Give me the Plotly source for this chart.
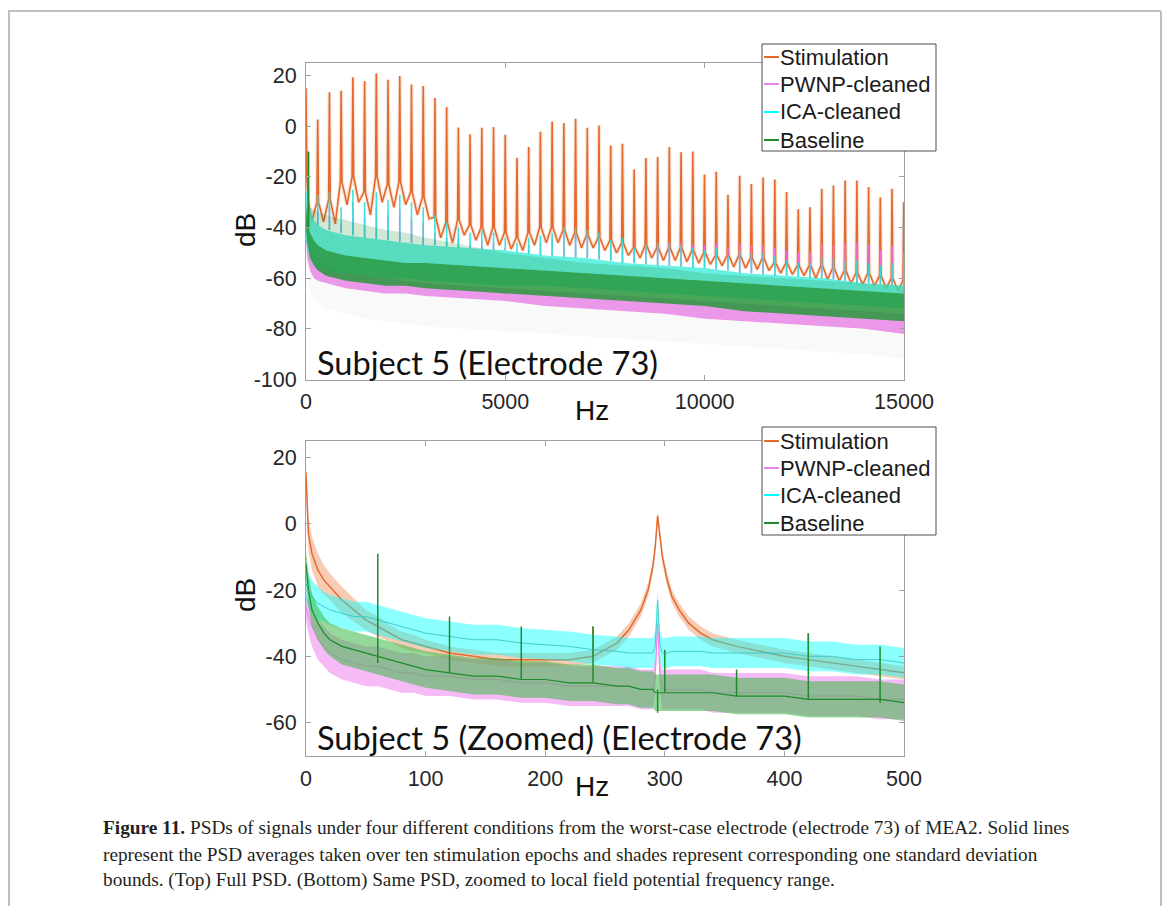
import plotly.graph_objects as go

# page is 1170x914; the browser adds an 8 px body margin, so the figure is 16 px smaller
PAGE_W, PAGE_H, BODY = 1170, 914, 8
W, H = PAGE_W - 2 * BODY, PAGE_H - 2 * BODY

# ---------------- data: top panel (full PSD, 0-15000 Hz) ----------------
HARMONIC_HZ = [294, 588, 882, 1176, 1470, 1764, 2058, 2352, 2646, 2940,
               3234, 3528, 3822, 4116, 4410, 4704, 4998, 5292, 5586, 5880,
               6174, 6468, 6762, 7056, 7350, 7644, 7938, 8232, 8526, 8820,
               9114, 9408, 9702, 9996, 10290, 10584, 10878, 11172, 11466, 11760,
               12054, 12348, 12642, 12936, 13230, 13524, 13818, 14112, 14406, 14700,
               14994]
STIM_PEAK_DB = [2.7, 13.4, 14.0, 19.4, 17.8, 20.8, 18.4, 19.9, 16.5, 15.9,
                11.2, 7.6, -0.5, -3.1, -0.6, -0.3, -3.3, -12.4, -8.2, -2.2,
                1.9, 1.3, 3.0, -0.6, 0.3, -7.6, -6.9, -17.1, -12.5, -12.1,
                -8.2, -10.3, -10.0, -19.0, -18.0, -27.0, -19.5, -22.8, -20.2, -21.0,
                -26.0, -32.8, -32.0, -24.7, -23.4, -21.4, -21.4, -24.0, -28.0, -24.7,
                -30.0]
# level of the stimulation PSD 20 Hz either side of each harmonic peak
STIM_SHOULDER_HZ = 20
STIM_SHOULDER_DB = [-30, -29, -22, -20, -26, -20, -23, -22, -26, -28,
                    -36, -38, -37, -39, -40, -40, -42, -44, -42, -40,
                    -40, -41, -42, -43, -44, -45, -46, -48, -47, -48,
                    -48, -48, -49, -50, -51, -51, -51, -52, -52, -54,
                    -54, -55, -55, -55, -56, -57, -58, -58, -59, -60,
                    -61]
# level of the stimulation PSD midway to the next harmonic
STIM_VALLEY_DB = [-37.7, -38.5, -31, -30, -35, -30, -32, -31, -35, -36.5,
                  -44, -46, -43, -45, -47, -47, -48.5, -49, -47, -46,
                  -46, -47, -48, -48, -49, -50, -51, -52, -52, -53,
                  -53, -53.5, -54, -54.5, -55, -55.5, -56, -56.5, -57, -58,
                  -58.5, -59, -60, -60.5, -61, -62, -62.5, -63, -64, -65,
                  -66]
STIM_START_HZ = [0, 20, 60, 147]
STIM_START_DB = [15, -20, -30, -37.5]

ICA_SPIKE_DB = [-27, -26, -32, -25, -30, -26, -29, -27, -30, -32,
                -35, -38, -40, -42, -41, -42, -44, -46, -44, -43,
                -42, -40, -40, -41, -42, -45, -44, -48, -47, -46,
                -46, -47, -48, -49, -48, -51, -49, -50, -50, -51,
                -53, -54, -54, -52, -52, -53, -53, -54, -55, -54,
                -56]
PWNP_SPIKE_DB = [-33, -32, -38, -30, -36, -32, -35, -33, -37, -38,
                 -42, -44, -44, -46, -45, -46, -48, -50, -47, -46,
                 -44, -43, -43, -44, -45, -47, -46, -49, -48, -47,
                 -46, -46, -47, -47, -46, -48, -46, -47, -47, -48,
                 -49, -50, -50, -47, -47, -46, -46, -47, -49, -47,
                 -50]
HARMONIC_FLOOR_DB = [-39, -41, -42, -43, -44, -44.5, -45, -45.5, -46, -47,
                     -47, -47.5, -48, -48, -48.5, -49, -49, -50, -50.5, -51,
                     -51, -51.5, -52, -52, -52.5, -53, -54, -54, -54.5, -55,
                     -55, -55.5, -56, -56, -56.5, -57, -58, -58, -58.5, -59,
                     -59, -59.5, -60, -60, -60.5, -61, -62, -62, -62.5, -63,
                     -63]

TOP_HZ = [0, 30, 100, 200, 300, 500, 750, 1000, 1500, 2000, 2500, 3000,
          4000, 5000, 6000, 7000, 8000, 9000, 10000, 11000, 12000, 13000, 14000, 15000]
BASE_SPIKES_HI = [-30, -32, -32, -33, -34, -35, -36, -37, -39, -41, -42, -44,
                  -47, -50, -52, -54, -55, -56, -58, -59, -60, -61, -62, -63]
BASE_BODY_HI = [-32, -36, -42, -45, -47, -49, -50, -51, -52, -53, -54, -54,
                -55, -56, -57, -58, -59, -60, -61, -62, -63, -64, -65, -66]
BASE_BODY_LO = [-40, -46, -52, -55, -57, -59, -60, -61, -62, -63, -63, -64,
                -65, -66, -67, -68, -69, -70, -71, -73, -74, -75, -76, -77]
BASE_LINE_HZ = [60]
BASE_LINE_TIP_DB = [-10]
BASE_LINE_BASE_DB = [-40]
ICA_BODY_HI = [-25, -27, -33, -37, -39, -41, -42, -43, -44, -45, -46, -47,
               -48, -49, -51, -52, -54, -55, -56, -58, -59, -60, -62, -63]
ICA_BODY_LO = [-45, -48, -52, -55, -56, -57, -58, -58, -59, -60, -60, -61,
               -62, -63, -63, -64, -65, -66, -67, -68, -69, -70, -71, -72]
PWNP_BODY_HI = [-30, -38, -45, -50, -52, -55, -57, -58, -59, -60, -61, -62,
                -63, -64, -65, -66, -67, -68, -69, -70, -71, -72, -73, -74]
PWNP_BODY_LO = [-45, -52, -57, -60, -61, -62, -63, -64, -65, -66, -66, -67,
                -68, -69, -71, -72, -73, -74, -76, -77, -78, -79, -80, -82]
FAINT_LO = [-50, -60, -65, -68, -70, -72, -73, -74, -76, -77, -78, -79,
            -80, -81, -82, -83, -84, -85, -86, -87, -88, -89, -90, -92]

# ---------------- data: bottom panel (zoomed, 0-500 Hz) ----------------
BOT_HZ = [0, 2, 5, 10, 15, 20, 30, 40, 50, 60, 70, 80, 90, 100, 120, 140, 160, 180,
          200, 220, 240, 260, 270, 280, 286, 290, 292, 294, 296, 298, 302, 306, 312,
          320, 330, 340, 360, 380, 400, 420, 440, 460, 480, 500]
STIM_MEAN = [15.5, -3, -9, -14, -17, -19, -23, -26, -29, -31, -33, -35, -36, -37, -39, -40, -41, -41,
             -41, -41, -40, -36, -32, -26, -20, -13, -7, 2.5, -4, -10, -17, -22, -26,
             -30, -33, -35, -37, -38.5, -40, -41, -42, -43, -44, -45]
STIM_STD = [2.5, 5, 5, 5, 4.5, 4, 4, 3.5, 3, 3, 2.5, 2.5, 2.5, 2, 2, 2, 2, 2,
            2, 2, 2, 2, 2, 2, 2, 2, 2, 1, 2, 2, 2, 2, 2,
            2, 2, 2, 2, 2, 2, 2, 2, 2, 2, 2]
PWNP_MEAN = [-25, -28, -31, -35, -37, -39, -41, -42, -43, -43, -44, -45, -45, -46, -46, -47, -47, -48,
             -48, -49, -49, -49, -49, -50, -50, -50, -46, -30, -46, -50, -50, -50, -50,
             -50, -50, -51, -51, -51, -51, -52, -52, -52, -53, -53]
PWNP_STD = [4, 5, 6, 6, 6, 6, 6, 6, 6, 6, 6, 6, 6, 6, 6, 6, 6, 6,
            6, 6, 6, 6, 6, 6, 6, 6, 5, 3, 5, 6, 6, 6, 6,
            6, 6, 6, 6, 6, 6, 6, 6, 6, 6, 6]
ICA_MEAN = [-18, -20, -22, -24, -25, -26, -27, -28, -28, -29, -30, -31, -32, -33, -34, -35, -35, -36,
            -36.5, -37, -38, -38.5, -39, -39, -39, -39, -37, -23, -37, -39, -39, -38.5, -38.5,
            -38.5, -38.5, -39, -39, -39, -39, -40, -40, -41, -41, -42]
ICA_STD = [5, 5, 5, 5, 4.5, 4.5, 4.5, 4.5, 4.5, 4.5, 4.5, 4.5, 4.5, 4.5, 4.5, 4.5, 4.5, 4.5,
           4.5, 4.5, 4.5, 4.5, 4.5, 4.5, 4.5, 4.5, 4.5, 3, 4.5, 4.5, 4.5, 4.5, 4.5,
           4.5, 4.5, 4.5, 4.5, 4.5, 4.5, 4.5, 4.5, 4.5, 4.5, 4.5]
BASE_MEAN = [-12, -20, -26, -30, -33, -35, -37, -38, -39, -40, -41, -42, -43, -44, -45, -46, -46, -47,
             -47, -48, -48, -49, -49, -50, -50, -50, -51, -51, -51, -51, -51, -51, -51,
             -51, -51, -51, -52, -52, -52, -53, -53, -53, -53, -54]
BASE_STD = [4, 5, 5, 5, 5, 5, 5.5, 5.5, 5.5, 5.5, 5.5, 5.5, 5.5, 5.5, 5.5, 5.5, 5.5, 5.5,
            5.5, 5.5, 5.5, 5.5, 5.5, 5.5, 5.5, 5.5, 5.5, 5.5, 5.5, 5.5, 5.5, 5.5, 5.5,
            5.5, 5.5, 5.5, 5.5, 5.5, 5.5, 5.5, 5.5, 5.5, 5.5, 5.5]
LINE_NOISE_HZ = [60, 120, 180, 240, 294, 300, 360, 420, 480]
LINE_NOISE_TIP_DB = [-9, -28, -31, -31, -50, -38, -44, -33, -37]
LINE_NOISE_BASE_DB = [-42, -45, -47, -48, -57, -51, -52, -53, -54]
STIM_EXTRA_HZ = [240, 420]
STIM_EXTRA_TIP_DB = [-31, -33]
STIM_EXTRA_BASE_DB = [-40, -41]

SERIES = ["Stimulation", "PWNP-cleaned", "ICA-cleaned", "Baseline"]

# ---------------- styles ----------------
ORANGE = "#E4692F"
PINK = "#EE82EE"
CYAN = "#00FFFF"
GREEN = "#1E8C2D"
COLORS = [ORANGE, PINK, CYAN, GREEN]
SANS = "Liberation Sans, Arial, sans-serif"
TICK_FONT = dict(family=SANS, size=21.5, color="#262626")
LABEL_FONT = dict(family=SANS, size=28, color="#111111")
NOTE_FONT = dict(family="Lato, Open Sans, sans-serif", size=32.6, color="#111111")
CAP_FONT = dict(family="Liberation Serif, Times New Roman, serif", size=19.3, color="#231f20")


def px(x):
    """page pixel -> paper fraction"""
    return (x - BODY) / W


def py(y):
    return 1 - (y - BODY) / H


fig = go.Figure()


def band(xv, hi, lo, color, xa, ya):
    fig.add_trace(go.Scatter(x=list(xv) + list(xv)[::-1], y=list(hi) + list(lo)[::-1],
                             fill="toself", fillcolor=color, mode="lines",
                             line=dict(width=0), hoverinfo="skip", showlegend=False,
                             xaxis=xa, yaxis=ya))


def spikes(xv, base, tip, color, width, xa, ya):
    xs, ys = [], []
    for f, b, t in zip(xv, base, tip):
        xs += [f, f, None]
        ys += [b, t, None]
    fig.add_trace(go.Scatter(x=xs, y=ys, mode="lines", line=dict(color=color, width=width),
                             hoverinfo="skip", showlegend=False, xaxis=xa, yaxis=ya))


# ---- top panel ----
band(TOP_HZ, PWNP_BODY_LO, FAINT_LO, "rgba(190,200,190,0.10)", "x", "y")

sx, sy = list(STIM_START_HZ), list(STIM_START_DB)
for i, f in enumerate(HARMONIC_HZ):
    nxt = HARMONIC_HZ[i + 1] if i + 1 < len(HARMONIC_HZ) else 15000
    sx += [f - STIM_SHOULDER_HZ, f, f + STIM_SHOULDER_HZ, (f + nxt) / 2]
    sy += [STIM_SHOULDER_DB[i], STIM_PEAK_DB[i], STIM_SHOULDER_DB[i], STIM_VALLEY_DB[i]]
fig.add_trace(go.Scatter(x=sx, y=sy, mode="lines", line=dict(color="rgba(240,150,100,0.25)", width=4),
                         hoverinfo="skip", showlegend=False, xaxis="x", yaxis="y"))
fig.add_trace(go.Scatter(x=sx, y=sy, mode="lines", line=dict(color=ORANGE, width=1.6),
                         hoverinfo="skip", showlegend=False, xaxis="x", yaxis="y"))

band(TOP_HZ, PWNP_BODY_HI, PWNP_BODY_LO, "rgba(228,118,228,0.75)", "x", "y")
spikes(HARMONIC_HZ, HARMONIC_FLOOR_DB, PWNP_SPIKE_DB, "rgba(238,110,238,0.9)", 1.6, "x", "y")
band(TOP_HZ, ICA_BODY_HI, ICA_BODY_LO, "rgba(70,238,222,0.82)", "x", "y")
spikes(HARMONIC_HZ, HARMONIC_FLOOR_DB, ICA_SPIKE_DB, "rgba(40,225,215,0.9)", 1.6, "x", "y")
band(TOP_HZ, BASE_SPIKES_HI, BASE_BODY_HI, "rgba(30,140,50,0.2)", "x", "y")
band(TOP_HZ, BASE_BODY_HI, BASE_BODY_LO, "rgba(40,150,60,0.85)", "x", "y")
spikes(BASE_LINE_HZ, BASE_LINE_BASE_DB, BASE_LINE_TIP_DB, GREEN, 2, "x", "y")

# ---- bottom panel ----
for mean, std, fillc, linec, lw in [
    (STIM_MEAN, STIM_STD, "rgba(240,140,90,0.45)", ORANGE, 1.5),
    (PWNP_MEAN, PWNP_STD, "rgba(238,120,238,0.5)", PINK, 1),
    (ICA_MEAN, ICA_STD, "rgba(0,255,255,0.45)", "rgba(60,200,200,0.9)", 1),
    (BASE_MEAN, BASE_STD, "rgba(60,185,70,0.55)", GREEN, 1.2),
]:
    hi = [m + s for m, s in zip(mean, std)]
    lo = [m - s for m, s in zip(mean, std)]
    band(BOT_HZ, hi, lo, fillc, "x2", "y2")
    fig.add_trace(go.Scatter(x=BOT_HZ, y=mean, mode="lines", line=dict(color=linec, width=lw),
                             hoverinfo="skip", showlegend=False, xaxis="x2", yaxis="y2"))
    if linec == ORANGE:
        spikes(STIM_EXTRA_HZ, STIM_EXTRA_BASE_DB, STIM_EXTRA_TIP_DB, ORANGE, 1.5, "x2", "y2")
spikes(LINE_NOISE_HZ, LINE_NOISE_BASE_DB, LINE_NOISE_TIP_DB, GREEN, 1.5, "x2", "y2")

# ---------------- axes ----------------
axis_common = dict(showline=True, mirror="ticks", linecolor="#a0a0a0", linewidth=1,
                   ticks="inside", ticklen=5, tickcolor="#a0a0a0", showgrid=False,
                   zeroline=False, tickfont=TICK_FONT, automargin=False)
TOP_XTICKS = [0, 5000, 10000, 15000]
TOP_YTICKS = [-100, -80, -60, -40, -20, 0, 20]
BOT_XTICKS = [0, 100, 200, 300, 400, 500]
BOT_YTICKS = [-60, -40, -20, 0, 20]
fig.update_layout(
    width=W, height=H, autosize=False,
    margin=dict(l=0, r=0, t=0, b=0, pad=0, autoexpand=False),
    paper_bgcolor="white", plot_bgcolor="white", showlegend=False,
    xaxis=dict(domain=[px(306), px(904)], range=[0, 15000], tickvals=TOP_XTICKS,
               ticktext=[str(v) for v in TOP_XTICKS], anchor="y", ticklabelstandoff=3, **axis_common),
    yaxis=dict(domain=[py(379.5), py(63)], range=[-100, 25], tickvals=TOP_YTICKS,
               ticktext=[str(v) for v in TOP_YTICKS], anchor="x", ticklabelstandoff=4, **axis_common),
    xaxis2=dict(domain=[px(306), px(904)], range=[0, 500], tickvals=BOT_XTICKS,
                ticktext=[str(v) for v in BOT_XTICKS], anchor="y2", ticklabelstandoff=3, **axis_common),
    yaxis2=dict(domain=[py(755.7), py(441)], range=[-70, 25], tickvals=BOT_YTICKS,
                ticktext=[str(v) for v in BOT_YTICKS], anchor="x2", ticklabelstandoff=4, **axis_common),
)

ann = []
shapes = []
for (x, y, t, ang) in [(245, 230, "dB", -90), (592, 410, "Hz", 0),
                       (245, 595, "dB", -90), (592, 786, "Hz", 0)]:
    ann.append(dict(x=px(x), y=py(y), xref="paper", yref="paper", text=t, showarrow=False,
                    textangle=ang, font=LABEL_FONT, xanchor="center", yanchor="middle"))
for (y, t) in [(362, "Subject 5 (Electrode 73)"), (737, "Subject 5 (Zoomed) (Electrode 73)")]:
    ann.append(dict(x=px(315), y=py(y), xref="paper", yref="paper", text=t, showarrow=False,
                    font=NOTE_FONT, xanchor="left", yanchor="middle"))

for top, bot, rows in [(44, 151, [57, 84, 112, 140]), (427, 535, [441, 468, 495, 523])]:
    shapes.append(dict(type="rect", xref="paper", yref="paper", x0=px(762), x1=px(936),
                       y0=py(bot), y1=py(top), fillcolor="white", line=dict(color="#4d4d4d", width=1),
                       layer="above"))
    for name, col, ry in zip(SERIES, COLORS, rows):
        shapes.append(dict(type="line", xref="paper", yref="paper", x0=px(764), x1=px(779),
                           y0=py(ry), y1=py(ry), line=dict(color=col, width=2), layer="above"))
        ann.append(dict(x=px(778), y=py(ry), xref="paper", yref="paper", text=name, showarrow=False,
                        font=dict(family=SANS, size=22, color="#1a1a1a"),
                        xanchor="left", yanchor="middle"))

for x0, y0, x1, y1 in [(9, 11, 9, 914), (8, 11, 1161, 11), (1161, 11, 1161, 914)]:
    shapes.append(dict(type="line", xref="paper", yref="paper", x0=px(x0), x1=px(x1),
                       y0=py(y0), y1=py(y1), line=dict(color="#bfbfbf", width=2), layer="above"))

CAPTION = [
    "<b>Figure 11.</b> PSDs of signals under four different conditions from the worst-case electrode (electrode 73) of MEA2. Solid lines",
    "represent the PSD averages taken over ten stimulation epochs and shades represent corresponding one standard deviation",
    "bounds. (Top) Full PSD. (Bottom) Same PSD, zoomed to local field potential frequency range.",
]
for y, t in zip([828, 854, 880], CAPTION):
    ann.append(dict(x=px(101), y=py(y), xref="paper", yref="paper", text=t, showarrow=False,
                    font=CAP_FONT, xanchor="left", yanchor="middle"))

fig.update_layout(annotations=ann, shapes=shapes)
fig.write_html("out.html", config={"responsive": False, "displayModeBar": False})
